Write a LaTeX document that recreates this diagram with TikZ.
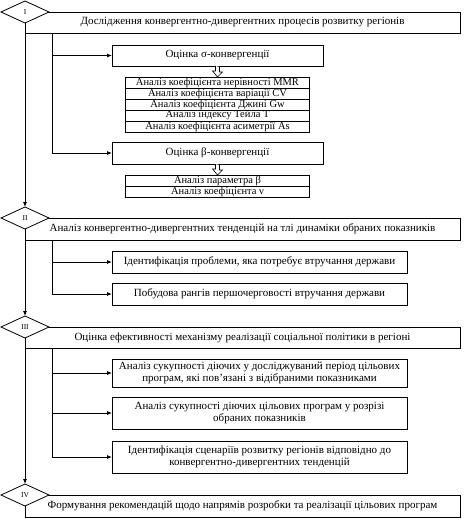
\documentclass[tikz,border=0pt]{standalone}
\usepackage{fontspec}
\setmainfont{Liberation Serif}
\usetikzlibrary{shapes.geometric,arrows.meta,calc}
\newcommand\myharrow[2]{%
  \draw[line width=0.6pt,fill=white] ($(#1)+(-2,0)$) -- ++(0,5) -- ++(-3,0) -- (#2) -- ($(#2)+(5,-5)$) -- ++(-3,0) -- ++(0,-5);}
\begin{document}
\begin{tikzpicture}[x=1pt,y=-1pt,
  box/.style={draw,line width=0.8pt,fill=white,inner sep=1pt,outer sep=0pt,anchor=north west,align=center,font=\fontsize{11}{12}\selectfont},
  row/.style={draw,line width=0.8pt,fill=white,inner sep=0pt,outer sep=0pt,anchor=north,minimum width=184pt,minimum height=11pt,font=\fontsize{10.5}{10}\selectfont},
  dia/.style={draw,line width=0.8pt,fill=white,diamond,inner sep=0pt,outer sep=0pt,minimum width=48pt,minimum height=22pt,font=\fontsize{7.5}{8}\selectfont},
  arr/.style={line width=0.8pt,-{Latex[length=5pt,width=4pt]}},
  ln/.style={line width=0.8pt}]
\useasboundingbox (0,0) rectangle (463,519);
% stage I
\node[box,minimum width=435pt,minimum height=21pt] (b1) at (25,12) {Дослідження конвергентно-дивергентних процесів розвитку регіонів};
\node[box,minimum width=211pt,minimum height=21pt] (sig) at (112,45) {Оцінка σ-конвергенції};
\node[row] (t1) at (217.5,77) {Аналіз коефіцієнта нерівності MMR};
\node[row] (t2) at (t1.south) {Аналіз коефіцієнта варіації CV};
\node[row] (t3) at (t2.south) {Аналіз коефіцієнта Джині Gw};
\node[row] (t4) at (t3.south) {Аналіз індексу Тейла T};
\node[row] (t5) at (t4.south) {Аналіз коефіцієнта асиметрії As};
\node[box,minimum width=211pt,minimum height=22pt] (bet) at (112,142) {Оцінка β-конвергенції};
\node[row] (u1) at (217.5,175) {Аналіз параметра β};
\node[row] (u2) at (u1.south) {Аналіз коефіцієнта ν};
% stage II
\node[box,minimum width=435pt,minimum height=22pt] (b2) at (25,218) {Аналіз конвергентно-дивергентних тенденцій на тлі динаміки обраних показників};
\node[box,minimum width=295pt,minimum height=22pt] (c1) at (112,251) {Ідентифікація проблеми, яка потребує втручання держави};
\node[box,minimum width=295pt,minimum height=22pt] (c2) at (112,283) {Побудова рангів першочерговості втручання держави};
% stage III
\node[box,minimum width=435pt,minimum height=21pt] (b3) at (25,327) {Оцінка ефективності механізму реалізації соціальної політики в регіоні};
\node[box,minimum width=295pt,minimum height=28pt] (e1) at (112,359) {Аналіз сукупності діючих у досліджуваний період цільових\\програм, які пов’язані з відібраними показниками};
\node[box,minimum width=295pt,minimum height=32pt] (e2) at (112,397) {Аналіз сукупності діючих цільових програм у розрізі\\обраних показників};
\node[box,minimum width=295pt,minimum height=32pt] (e3) at (112,441) {Ідентифікація сценаріїв розвитку регіонів відповідно до\\конвергентно-дивергентних тенденцій};
% stage IV
\node[box,minimum width=435pt,minimum height=22pt] (b4) at (25,495) {Формування рекомендацій щодо напрямів розробки та реалізації цільових програм};
% diamonds
\node[dia] (d1) at (25,12) {I};
\node[dia] (d2) at (25,218) {II};
\node[dia] (d3) at (25,327) {III};
\node[dia] (d4) at (25,495) {IV};
% main line
\draw[arr] (b1.south west) -- (d2.north);
\draw[arr] (b2.south west) -- (d3.north);
\draw[arr] (b3.south west) -- (d4.north);
% branch lines
\coordinate (j1) at ($(b1.south west)+(27,0)$);
\coordinate (j2) at ($(b2.south west)+(27,0)$);
\coordinate (j3) at ($(b3.south west)+(27,0)$);
\draw[arr] (j1) |- (sig.west);
\draw[arr] (j1) |- (bet.west);
\draw[arr] (j2) |- (c1.west);
\draw[arr] (j2) |- (c2.west);
\draw[arr] (j3) |- (e1.west);
\draw[arr] (j3) |- (e2.west);
\draw[arr] (j3) |- (e3.west);
% hollow arrows
\myharrow{sig.south}{t1.north}
\myharrow{bet.south}{u1.north}
\end{tikzpicture}
\end{document}
